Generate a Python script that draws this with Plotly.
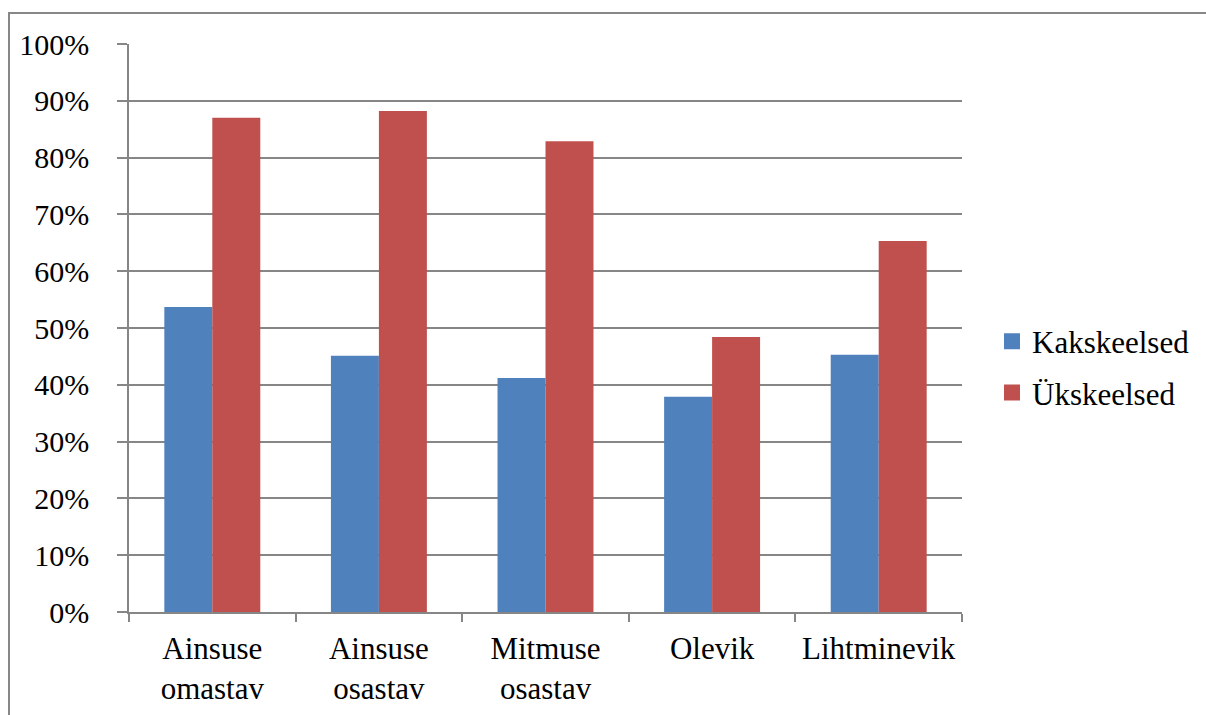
import plotly.graph_objects as go

categories = ["Ainsuse<br>omastav", "Ainsuse<br>osastav", "Mitmuse<br>osastav", "Olevik", "Lihtminevik"]
kakskeelsed = [0.537, 0.451, 0.412, 0.379, 0.453]
ukskeelsed = [0.870, 0.882, 0.829, 0.484, 0.653]
series_names = ["Kakskeelsed", "Ükskeelsed"]
colors = ["#4F81BD", "#C0504D"]

FONT = "'Liberation Serif', 'Times New Roman', 'DejaVu Serif', serif"
W, H = 1206, 715
L, R, T, B = 129, 244, 44, 103
pw, ph = W - L - R, H - T - B

fig = go.Figure()
for name, vals, col in zip(series_names, [kakskeelsed, ukskeelsed], colors):
    fig.add_trace(go.Bar(x=categories, y=vals, name=name, marker=dict(color=col, line=dict(width=0)),
                         showlegend=False))
# legend proxies
for i, (name, col) in enumerate(zip(series_names, colors)):
    fig.add_trace(go.Scatter(x=[None], y=[None], mode="markers", name=name, legendgroup=f"g{i}",
                             marker=dict(symbol="square", size=17, color=col)))

def px_to_paper_x(px):
    return (px - L) / pw

def px_to_paper_y(py):
    return (H - B - py) / ph

fig.add_shape(type="rect", xref="paper", yref="paper",
              x0=px_to_paper_x(9), x1=px_to_paper_x(1212), y0=px_to_paper_y(760), y1=px_to_paper_y(13),
              line=dict(color="#878787", width=2), fillcolor="rgba(0,0,0,0)", layer="below")

fig.update_layout(
    width=W, height=H,
    margin=dict(l=L, r=R, t=T, b=B, pad=0, autoexpand=False),
    paper_bgcolor="white", plot_bgcolor="white",
    barmode="group", bargap=0.424, bargroupgap=0,
    font=dict(family=FONT, size=30, color="black"),
    legend=dict(x=px_to_paper_x(992), y=px_to_paper_y(367), xanchor="left", yanchor="middle",
                font=dict(family=FONT, size=31, color="black"), tracegroupgap=8,
                itemsizing="trace", bgcolor="rgba(0,0,0,0)"),
    showlegend=True,
)
fig.update_xaxes(showline=True, linecolor="#868686", linewidth=1.5, ticks="outside", ticklen=8,
                 tickcolor="#868686", tickwidth=1.5, tickson="boundaries", showgrid=False,
                 automargin=False,
                 tickfont=dict(family=FONT, size=31, color="black"), ticklabelstandoff=8)
fig.update_yaxes(range=[0, 1], dtick=0.1, tickformat=".0%", showline=True, linecolor="#868686",
                 linewidth=1.5, ticks="outside", ticklen=10, tickcolor="#868686", tickwidth=1.5,
                 showgrid=True, gridcolor="#868686", gridwidth=1.5, zeroline=False, automargin=False,
                 tickfont=dict(family=FONT, size=30, color="black"), ticklabelstandoff=22)

fig.write_html("out.html")
